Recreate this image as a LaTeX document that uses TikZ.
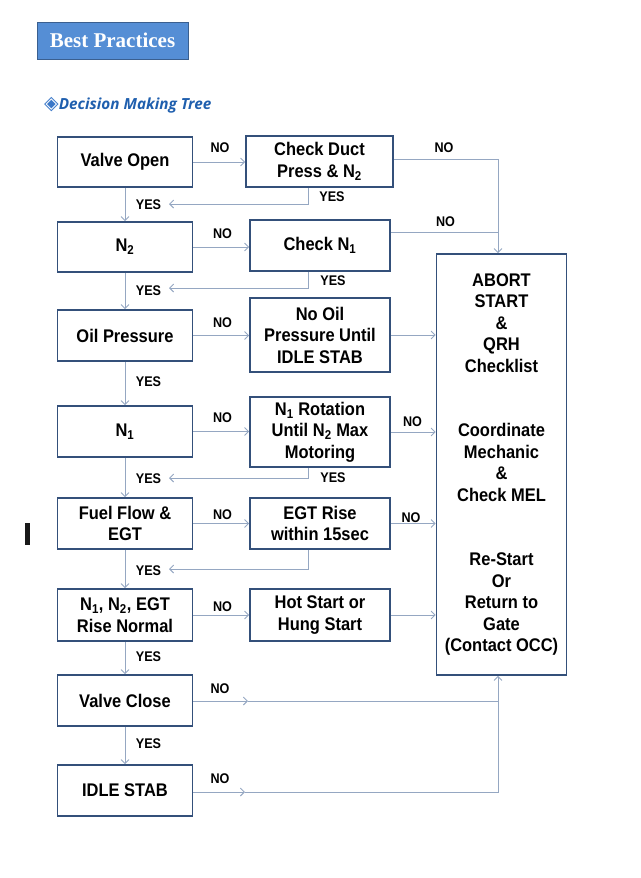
\documentclass[tikz,border=0pt]{standalone}
\usepackage{fontspec}
\setmainfont{Liberation Sans}
\newfontfamily\boxfont{Liberation Sans}[FakeStretch=0.9]
\newfontfamily\titlefont{Liberation Serif}
\newfontfamily\headfont{Open Sans}
\newfontfamily\symfont{DejaVu Sans}
\usetikzlibrary{arrows.meta}
\definecolor{bc}{HTML}{34507A}
\definecolor{lc}{HTML}{95A7C2}
\definecolor{tfill}{HTML}{558ED5}
\definecolor{tborder}{HTML}{3A5F8F}
\definecolor{hblue}{HTML}{1F5FAE}
\definecolor{dblue}{HTML}{3B78C8}
\begin{document}
\begin{tikzpicture}[x=1pt,y=-1pt,
  box/.style={draw=bc, line width=1.6pt, align=center, inner sep=0pt,
    font=\boxfont\bfseries\fontsize{18.3}{21.5}\selectfont},
  lbox/.style={box, minimum width=135pt, minimum height=50pt},
  mbox/.style={box, minimum width=140pt, minimum height=51pt},
  lbl/.style={inner sep=0pt, font=\boxfont\bfseries\fontsize{14}{14}\selectfont},
  conn/.style={draw=lc, line width=0.9pt, -{Straight Barb[length=4pt,width=8pt,line width=0.9pt]}},
  plain/.style={draw=lc, line width=0.9pt}]
\useasboundingbox (0,0) rectangle (640,878);

% title and heading
\node[draw=tborder, fill=tfill, line width=1pt, minimum width=151pt, minimum height=37pt,
  inner sep=0pt, font=\titlefont\bfseries\fontsize{21}{21}\selectfont, text=white]
  (title) at (112.5,40.5) {Best Practices};
\node[anchor=base west, inner sep=0pt, text=hblue] (head) at (44,109)
  {\textcolor{dblue}{\symfont\fontsize{19}{19}\selectfont ◈}{\headfont\bfseries\itshape\fontsize{15.3}{15.3}\selectfont Decision Making Tree}};

% stray mark
\fill[black!90] (25,523) rectangle (30,545);

% left column
\node[lbox] (vo) at (125,162) {Valve Open};
\node[lbox] (n2) at (125,247) {N\textsubscript{2}};
\node[lbox, minimum height=51pt] (oil) at (125,335.5) {Oil Pressure};
\node[lbox, minimum height=51pt] (n1) at (125,431.5) {N\textsubscript{1}};
\node[lbox, minimum height=51pt] (fuel) at (125,523.5) {Fuel Flow \&\\EGT};
\node[lbox, minimum height=52pt] (rise) at (125,615) {N\textsubscript{1}, N\textsubscript{2}, EGT\\Rise Normal};
\node[lbox, minimum height=51pt] (vc) at (125,700.5) {Valve Close};
\node[lbox, minimum height=51pt] (idle) at (125,790.5) {IDLE STAB};

% middle column
\node[mbox, minimum width=147pt] (cd) at (319.5,161.5) {Check Duct\\Press \& N\textsubscript{2}};
\node[mbox] (cn1) at (320,245.5) {Check N\textsubscript{1}};
\node[mbox, minimum height=74pt] (nooil) at (320,335) {No Oil\\Pressure Until\\IDLE STAB};
\node[mbox, minimum height=70pt] (rot) at (320,432) {N\textsubscript{1} Rotation\\Until N\textsubscript{2} Max\\Motoring};
\node[mbox] (egt) at (320,523.5) {EGT Rise\\within 15sec};
\node[mbox, minimum height=52pt] (hot) at (320,615) {Hot Start or\\Hung Start};

% right box
\node[box, minimum width=130pt, minimum height=421pt] (ab) at (501.5,464.5)
  {ABORT\\START\\\&\\QRH\\Checklist\\[43pt]Coordinate\\Mechanic\\\&\\Check MEL\\[43pt]Re-Start\\Or\\Return to\\Gate\\(Contact OCC)};

% vertical YES arrows
\draw[conn] (vo.south) -- (n2.north);
\draw[conn] (n2.south) -- (oil.north);
\draw[conn] (oil.south) -- (n1.north);
\draw[conn] (n1.south) -- (fuel.north);
\draw[conn] (fuel.south) -- (rise.north);
\draw[conn] (rise.south) -- (vc.north);
\draw[conn] (vc.south) -- (idle.north);

% NO arrows left -> middle
\draw[conn] (vo.east) -- (vo.east -| cd.west);
\draw[conn] (n2.east) -- (n2.east -| cn1.west);
\draw[conn] (oil.east) -- (oil.east -| nooil.west);
\draw[conn] (n1.east) -- (n1.east -| rot.west);
\draw[conn] (fuel.east) -- (fuel.east -| egt.west);
\draw[conn] (rise.east) -- (rise.east -| hot.west);

% middle -> abort
\coordinate (j1) at (498,159);
\coordinate (j2) at (498,232);
\draw[conn] (cd.east |- j1) -- (j1) -- (ab.north -| j1);
\draw[plain] (cn1.east |- j2) -- (j2);
\draw[conn] (nooil.east) -- (nooil.east -| ab.west);
\draw[conn] (rot.east) -- (rot.east -| ab.west);
\draw[conn] (egt.east) -- (egt.east -| ab.west);
\draw[conn] (hot.east) -- (hot.east -| ab.west);

% YES feedback arrows
\coordinate (y1) at (308,204); \coordinate (f1) at (169,204);
\coordinate (y2) at (308,288); \coordinate (f2) at (169,288);
\coordinate (y3) at (308,478); \coordinate (f3) at (169,478);
\coordinate (y4) at (308,569); \coordinate (f4) at (169,569);
\draw[conn] (cd.south -| y1) -- (y1) -- (f1);
\draw[conn] (cn1.south -| y2) -- (y2) -- (f2);
\draw[conn] (rot.south -| y3) -- (y3) -- (f3);
\draw[conn] (egt.south -| y4) -- (y4) -- (f4);

% bottom NO lines
\coordinate (m1) at (248,701); \coordinate (j5) at (498,701);
\coordinate (m2) at (245,792); \coordinate (j6) at (498,792);
\draw[conn] (vc.east |- m1) -- (m1);
\draw[plain] (m1) -- (j5);
\draw[conn] (j5) -- (ab.south -| j5);
\draw[conn] (idle.east |- m2) -- (m2);
\draw[plain] (m2) -- (j6) -- (j5);

% labels
\node[lbl] (l1) at (220,148) {NO};
\node[lbl] (l2) at (444,148) {NO};
\node[lbl] (l3) at (332,197) {YES};
\node[lbl] (l4) at (148.5,204.5) {YES};
\node[lbl] (l5) at (222.5,233.5) {NO};
\node[lbl] (l6) at (445.5,221.5) {NO};
\node[lbl] (l7) at (333,281) {YES};
\node[lbl] (l8) at (148.5,290.5) {YES};
\node[lbl] (l9) at (222.5,323) {NO};
\node[lbl] (l10) at (148.5,382) {YES};
\node[lbl] (l11) at (222.5,418) {NO};
\node[lbl] (l12) at (412.5,421.5) {NO};
\node[lbl] (l13) at (333,478) {YES};
\node[lbl] (l14) at (148.5,478.5) {YES};
\node[lbl] (l15) at (222.5,515) {NO};
\node[lbl] (l16) at (411,518) {NO};
\node[lbl] (l17) at (148.5,570.5) {YES};
\node[lbl] (l18) at (222.5,607) {NO};
\node[lbl] (l19) at (148.5,657) {YES};
\node[lbl] (l20) at (220,689) {NO};
\node[lbl] (l21) at (148.5,743.5) {YES};
\node[lbl] (l22) at (220,779) {NO};
\end{tikzpicture}
\end{document}
